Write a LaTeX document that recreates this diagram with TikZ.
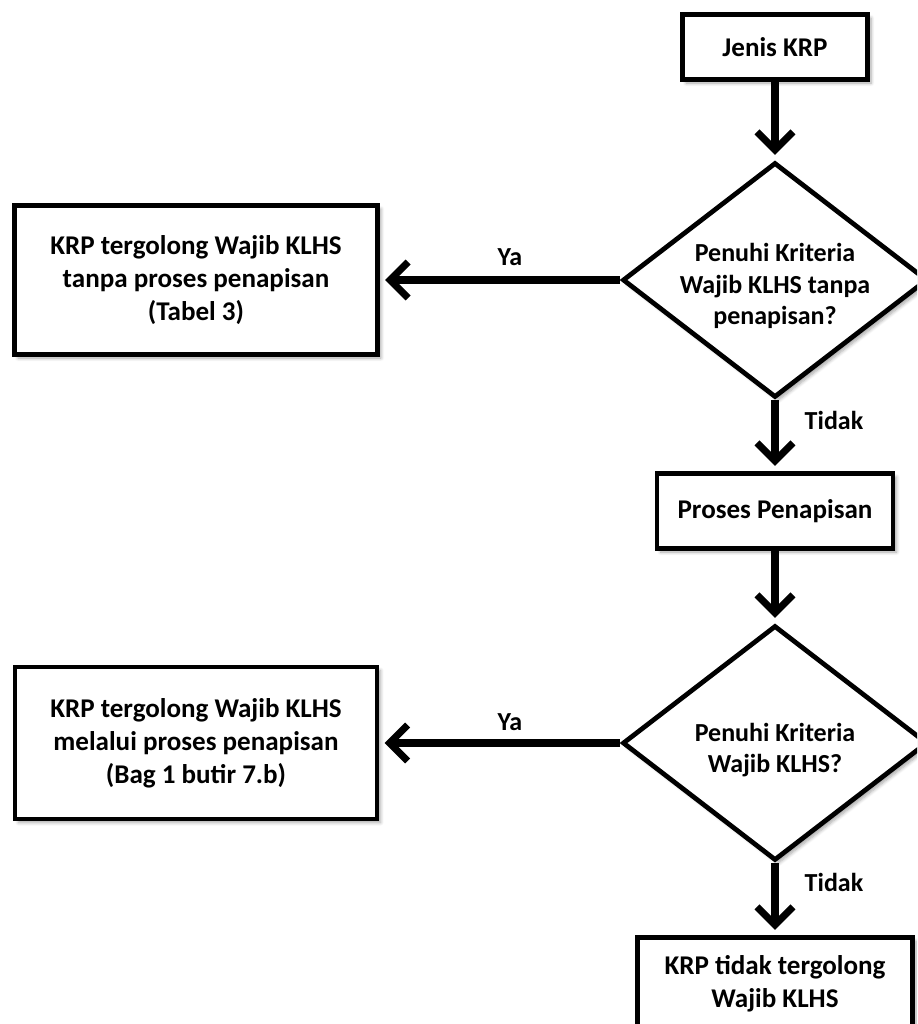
\documentclass[tikz,border=0pt]{standalone}
\usepackage{fontspec}
\setmainfont{Carlito}
\usepackage{tikz}
\usetikzlibrary{positioning,arrows.meta,shapes.geometric,shadows.blur}

\tikzset{
  kotak/.style={draw, line width=2.7pt, fill=white, align=center,
    font=\bfseries\fontsize{15.4}{18.9}\selectfont,
    blur shadow={shadow xshift=2pt, shadow yshift=-2pt, shadow blur steps=6, shadow opacity=35}},
  keputusan/.style={diamond, draw, line width=2.7pt, fill=white, inner sep=0pt,
    blur shadow={shadow xshift=2pt, shadow yshift=-2pt, shadow blur steps=6, shadow opacity=35}},
  teks/.style={align=center, font=\bfseries\fontsize{14.8}{18.1}\selectfont},
  ket/.style={font=\bfseries\fontsize{14.8}{18.1}\selectfont},
  panah/.style={line width=4pt, -{Straight Barb[length=0.36cm, width=0.72cm]}, shorten >=3pt}
}

\begin{document}
\begin{tikzpicture}[x=0.02cm, y=-0.02cm]
  \useasboundingbox (0,0) rectangle (917,1024);
  \clip (0,0) rectangle (917,1024);

  % kotak dan keputusan
  \node[kotak, minimum width=3.7cm, minimum height=1.3cm] (jenis) at (775,47) {Jenis KRP};
  \node[keputusan, minimum width=6.1cm, minimum height=4.7cm] (d1) at (775,280) {};
  \node[teks] (d1t) at (775,286) {Penuhi Kriteria\\Wajib KLHS tanpa\\penapisan?};
  \node[kotak, minimum width=7.26cm, minimum height=2.98cm] (wajib1) at (196,280)
    {KRP tergolong Wajib KLHS\\tanpa proses penapisan\\(Tabel 3)};
  \node[kotak, minimum width=4.72cm, minimum height=1.5cm] (proses) at (775,511) {Proses Penapisan};
  \node[keputusan, minimum width=6.1cm, minimum height=4.7cm] (d2) at (775,743) {};
  \node[teks] (d2t) at (775,750) {Penuhi Kriteria\\Wajib KLHS?};
  \node[kotak, minimum width=7.24cm, minimum height=3.04cm] (wajib2) at (196,743)
    {KRP tergolong Wajib KLHS\\melalui proses penapisan\\(Bag 1 butir 7.b)};
  \node[kotak, minimum width=5.5cm, minimum height=1.86cm] (tidak) at (775,984)
    {KRP tidak tergolong\\Wajib KLHS};

  % panah
  \draw[panah] (jenis) -- (d1);
  \draw[panah] (d1.west) -- (wajib1);
  \draw[panah] (d1.south) -- (proses);
  \draw[panah] (proses) -- (d2);
  \draw[panah] (d2.west) -- (wajib2);
  \draw[panah] (d2.south) -- (tidak);

  % keterangan
  \node[ket] (ya1) at (510,257) {Ya};
  \node[ket] (ya2) at (510,722) {Ya};
  \node[ket] (td1) at (834,420) {Tidak};
  \node[ket] (td2) at (834,882) {Tidak};
\end{tikzpicture}
\end{document}
